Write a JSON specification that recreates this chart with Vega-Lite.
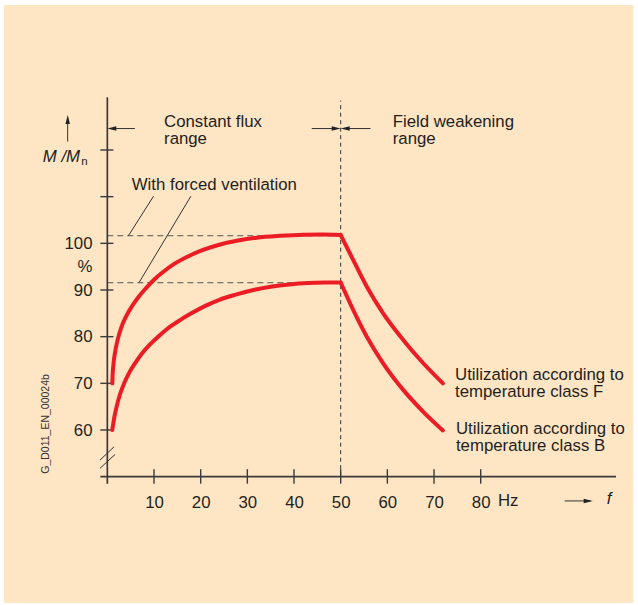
{
  "$schema": "https://vega.github.io/schema/vega-lite/v6.json",
  "width": 522.7,
  "height": 392,
  "autosize": {"type": "none"},
  "padding": {"left": 98, "top": 94, "right": 17.3, "bottom": 119},
  "background": "white",
  "config": {"view": {"stroke": null}, "font": "Liberation Sans"},
  "datasets": {
    "bg": [{"x": -22.13, "x2": 112.66, "y": 22.93, "y2": 151.06}],
    "axisLines": [
      {"x": 0, "x2": 0, "y": 48.5, "y2": 131.3},
      {"x": -1.5, "x2": 109, "y": 50, "y2": 50}
    ],
    "ticks": [
      {"x": -1.5, "x2": 1.3, "y": 60, "y2": 60},
      {"x": -1.5, "x2": 1.3, "y": 70, "y2": 70},
      {"x": -1.5, "x2": 1.3, "y": 80, "y2": 80},
      {"x": -1.5, "x2": 1.3, "y": 90, "y2": 90},
      {"x": -1.5, "x2": 1.3, "y": 100, "y2": 100},
      {"x": -1.5, "x2": 1.3, "y": 110, "y2": 110},
      {"x": -1.5, "x2": 1.3, "y": 120, "y2": 120},
      {"x": 10, "x2": 10, "y": 48.5, "y2": 51.6},
      {"x": 20, "x2": 20, "y": 48.5, "y2": 51.6},
      {"x": 30, "x2": 30, "y": 48.5, "y2": 51.6},
      {"x": 40, "x2": 40, "y": 48.5, "y2": 51.6},
      {"x": 50, "x2": 50, "y": 48.5, "y2": 51.6},
      {"x": 60, "x2": 60, "y": 48.5, "y2": 51.6},
      {"x": 70, "x2": 70, "y": 48.5, "y2": 51.6},
      {"x": 80, "x2": 80, "y": 48.5, "y2": 51.6}
    ],
    "thin": [
      {"x": 4.5, "x2": 9.9, "y": 101.6, "y2": 110.1},
      {"x": 6.8, "x2": 17.9, "y": 91.6, "y2": 110.1},
      {"x": -1.56, "x2": 1.44, "y": 53.57, "y2": 56.4},
      {"x": -1.56, "x2": 1.65, "y": 51.8, "y2": 54.76},
      {"x": 0.5, "x2": 5.9, "y": 124.6, "y2": 124.6},
      {"x": 43.8, "x2": 49.5, "y": 124.6, "y2": 124.6},
      {"x": 50.5, "x2": 56.4, "y": 124.6, "y2": 124.6},
      {"x": -8.5, "x2": -8.5, "y": 121.8, "y2": 127},
      {"x": 98, "x2": 103.5, "y": 44.8, "y2": 44.8}
    ],
    "dashV": [{"x": 50, "x2": 50, "y": 50, "y2": 130.6}],
    "dashH": [
      {"x": 0, "x2": 50, "y": 101.63, "y2": 101.63},
      {"x": 0, "x2": 50, "y": 91.56, "y2": 91.56}
    ],
    "curves": [
      {"s": "F1", "x": 1.07, "y": 70},
      {"s": "F1", "x": 1.12, "y": 71.5},
      {"s": "F1", "x": 1.3, "y": 74.0},
      {"s": "F1", "x": 1.65, "y": 76.6},
      {"s": "F1", "x": 2.2, "y": 79.3},
      {"s": "F1", "x": 3.0, "y": 82.0},
      {"s": "F1", "x": 4.0, "y": 84.3},
      {"s": "F1", "x": 5.2, "y": 86.4},
      {"s": "F1", "x": 6.6, "y": 88.4},
      {"s": "F1", "x": 8.2, "y": 90.3},
      {"s": "F1", "x": 10.0, "y": 92.2},
      {"s": "F1", "x": 12.0, "y": 93.9},
      {"s": "F1", "x": 14.5, "y": 95.7},
      {"s": "F1", "x": 17.5, "y": 97.3},
      {"s": "F1", "x": 20.5, "y": 98.6},
      {"s": "F1", "x": 24.0, "y": 99.7},
      {"s": "F1", "x": 28.0, "y": 100.6},
      {"s": "F1", "x": 32.0, "y": 101.2},
      {"s": "F1", "x": 37.0, "y": 101.6},
      {"s": "F1", "x": 42.0, "y": 101.85},
      {"s": "F1", "x": 46.0, "y": 101.9},
      {"s": "F1", "x": 50, "y": 101.8},
      {"s": "F2", "x": 50, "y": 101.8},
      {"s": "F2", "x": 52.7, "y": 96.4},
      {"s": "F2", "x": 55.6, "y": 90.7},
      {"s": "F2", "x": 59.1, "y": 85},
      {"s": "F2", "x": 63.4, "y": 79.3},
      {"s": "F2", "x": 67.7, "y": 74.3},
      {"s": "F2", "x": 71.9, "y": 70},
      {"s": "B1", "x": 1.07, "y": 60},
      {"s": "B1", "x": 1.4, "y": 62.2},
      {"s": "B1", "x": 1.9, "y": 64.6},
      {"s": "B1", "x": 2.7, "y": 67.6},
      {"s": "B1", "x": 3.6, "y": 70.0},
      {"s": "B1", "x": 4.7, "y": 72.3},
      {"s": "B1", "x": 6.0, "y": 74.4},
      {"s": "B1", "x": 7.5, "y": 76.5},
      {"s": "B1", "x": 9.2, "y": 78.4},
      {"s": "B1", "x": 11.0, "y": 80.1},
      {"s": "B1", "x": 13.0, "y": 81.8},
      {"s": "B1", "x": 15.5, "y": 83.5},
      {"s": "B1", "x": 18.0, "y": 85.0},
      {"s": "B1", "x": 21.0, "y": 86.6},
      {"s": "B1", "x": 24.0, "y": 87.9},
      {"s": "B1", "x": 27.5, "y": 89.0},
      {"s": "B1", "x": 31.3, "y": 90.0},
      {"s": "B1", "x": 35.0, "y": 90.7},
      {"s": "B1", "x": 39.0, "y": 91.2},
      {"s": "B1", "x": 43.0, "y": 91.5},
      {"s": "B1", "x": 46.5, "y": 91.6},
      {"s": "B1", "x": 50, "y": 91.6},
      {"s": "B2", "x": 50, "y": 91.6},
      {"s": "B2", "x": 52.7, "y": 85.7},
      {"s": "B2", "x": 55.6, "y": 80},
      {"s": "B2", "x": 59.1, "y": 74.3},
      {"s": "B2", "x": 63.4, "y": 68.6},
      {"s": "B2", "x": 67.7, "y": 63.9},
      {"s": "B2", "x": 71.9, "y": 59.9}
    ],
    "heads": [
      {"x": 0, "y": 124.6, "d": "left"},
      {"x": 50, "y": 124.6, "d": "right"},
      {"x": 50, "y": 124.6, "d": "left"},
      {"x": -8.5, "y": 127.5, "d": "up"},
      {"x": 104, "y": 44.8, "d": "right"}
    ],
    "labels": [
      {"x": 12.15, "y": 124.9, "t": "Constant flux\nrange"},
      {"x": 61.15, "y": 124.9, "t": "Field weakening\nrange"},
      {"x": 5.23, "y": 111.4, "t": "With forced ventilation"},
      {"x": 74.5, "y": 70.7, "t": "Utilization according to\ntemperature class F"},
      {"x": 74.7, "y": 59.1, "t": "Utilization according to\ntemperature class B"},
      {"x": 83.7, "y": 43.7, "t": "Hz"}
    ],
    "italic": [
      {"x": -13.84, "y": 117.5, "t": "M /M"},
      {"x": 107, "y": 44.1, "t": "f"}
    ],
    "sub": [{"x": -5.6, "y": 116.8, "t": "n"}],
    "code": [{"x": -13.1, "y": 61.3, "t": "G_D011_EN_00024b"}]
  },
  "encoding": {
    "x": {
      "field": "x",
      "type": "quantitative",
      "scale": {"domain": [-2, 110], "nice": false, "zero": false},
      "axis": {
        "values": [10, 20, 30, 40, 50, 60, 70, 80],
        "domain": false,
        "ticks": false,
        "tickSize": 0,
        "grid": false,
        "title": null,
        "zindex": 2,
        "labelPadding": 8,
        "labelFontSize": 16.8,
        "labelFont": "Liberation Sans",
        "labelColor": "#231F20",
        "labelBaseline": "top"
      }
    },
    "y": {
      "field": "y",
      "type": "quantitative",
      "scale": {"domain": [48, 132], "nice": false, "zero": false},
      "axis": {
        "values": [60, 70, 80, 90, 95, 100],
        "labelExpr": "datum.value == 95 ? '%' : datum.label",
        "domain": false,
        "ticks": false,
        "tickSize": 0,
        "grid": false,
        "title": null,
        "zindex": 2,
        "labelPadding": 6,
        "labelFontSize": 16.8,
        "labelFont": "Liberation Sans",
        "labelColor": "#231F20"
      }
    }
  },
  "layer": [
    {
      "data": {"name": "bg"},
      "mark": {"type": "rect", "fill": "#FEE5C4"},
      "encoding": {"x2": {"field": "x2"}, "y2": {"field": "y2"}}
    },
    {
      "data": {"name": "dashH"},
      "mark": {"type": "rule", "stroke": "#555555", "strokeWidth": 1, "strokeDash": [6, 4]},
      "encoding": {"x2": {"field": "x2"}, "y2": {"field": "y2"}}
    },
    {
      "data": {"name": "dashV"},
      "mark": {"type": "rule", "stroke": "#333333", "strokeWidth": 1, "strokeDash": [4, 3.5]},
      "encoding": {"x2": {"field": "x2"}, "y2": {"field": "y2"}}
    },
    {
      "data": {"name": "thin"},
      "mark": {"type": "rule", "stroke": "#333333", "strokeWidth": 1},
      "encoding": {"x2": {"field": "x2"}, "y2": {"field": "y2"}}
    },
    {
      "data": {"name": "axisLines"},
      "mark": {"type": "rule", "stroke": "#3a3a3a", "strokeWidth": 1.7},
      "encoding": {"x2": {"field": "x2"}, "y2": {"field": "y2"}}
    },
    {
      "data": {"name": "ticks"},
      "mark": {"type": "rule", "stroke": "#3a3a3a", "strokeWidth": 1.4},
      "encoding": {"x2": {"field": "x2"}, "y2": {"field": "y2"}}
    },
    {
      "data": {"name": "curves"},
      "mark": {"type": "line", "stroke": "#EC1C24", "strokeWidth": 4, "interpolate": "monotone", "strokeCap": "round", "strokeJoin": "round"},
      "encoding": {"detail": {"field": "s"}}
    },
    {
      "data": {"name": "heads"},
      "mark": {"type": "point", "filled": true, "fill": "#222222", "strokeWidth": 0, "opacity": 1, "size": 81},
      "encoding": {
        "shape": {
          "field": "d",
          "type": "nominal",
          "legend": null,
          "scale": {
            "domain": ["left", "right", "up"],
            "range": ["M0,0L2,-0.5L2,0.5Z", "M0,0L-2,-0.5L-2,0.5Z", "M0,0L-0.5,2L0.5,2Z"]
          }
        }
      }
    },
    {
      "data": {"name": "labels"},
      "mark": {"type": "text", "align": "left", "baseline": "alphabetic", "fontSize": 16.8, "lineBreak": "\n", "lineHeight": 17.2, "color": "#231F20", "font": "Liberation Sans"},
      "encoding": {"text": {"field": "t"}}
    },
    {
      "data": {"name": "italic"},
      "mark": {"type": "text", "align": "left", "baseline": "alphabetic", "fontSize": 16.8, "fontStyle": "italic", "color": "#231F20", "font": "Liberation Sans"},
      "encoding": {"text": {"field": "t"}}
    },
    {
      "data": {"name": "sub"},
      "mark": {"type": "text", "align": "left", "baseline": "alphabetic", "fontSize": 11.5, "color": "#231F20", "font": "Liberation Sans"},
      "encoding": {"text": {"field": "t"}}
    },
    {
      "data": {"name": "code"},
      "mark": {"type": "text", "align": "center", "baseline": "middle", "angle": 270, "fontSize": 10.5, "color": "#333333", "font": "Liberation Sans"},
      "encoding": {"text": {"field": "t"}}
    }
  ]
}
